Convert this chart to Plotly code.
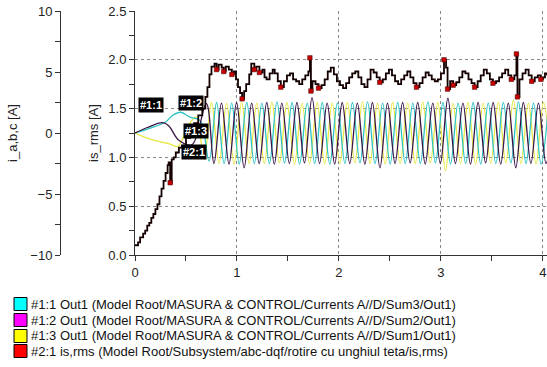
import plotly.graph_objects as go

# ---------------- data ----------------
# is_rms [A]  (time in s)
rms_t = [0.00, 0.03, 0.05, 0.08, 0.10, 0.12, 0.14, 0.16, 0.18, 0.20,
         0.22, 0.24, 0.26, 0.28, 0.30, 0.32, 0.33, 0.345, 0.36, 0.38,
         0.40, 0.43, 0.46, 0.50, 0.54, 0.58, 0.62, 0.66, 0.69, 0.71,
         0.73, 0.75, 0.78, 0.80, 0.82, 0.85, 0.87, 0.89, 0.92, 0.95,
         0.97, 0.99, 1.01, 1.03, 1.05, 1.07, 1.09, 1.12, 1.14, 1.17,
         1.19, 1.22, 1.25, 1.27, 1.29, 1.32, 1.35, 1.37, 1.40, 1.43,
         1.46, 1.49, 1.52, 1.55, 1.58, 1.61, 1.64, 1.67, 1.70, 1.715,
         1.725, 1.74, 1.77, 1.80, 1.83, 1.86, 1.89, 1.92, 1.95, 1.98,
         2.01, 2.04, 2.07, 2.10, 2.13, 2.16, 2.19, 2.22, 2.25, 2.28,
         2.31, 2.34, 2.37, 2.40, 2.43, 2.46, 2.49, 2.52, 2.55, 2.58,
         2.61, 2.64, 2.67, 2.70, 2.73, 2.76, 2.79, 2.82, 2.85, 2.88,
         2.91, 2.94, 2.97, 3.00, 3.03, 3.05, 3.065, 3.09, 3.12, 3.15,
         3.18, 3.21, 3.24, 3.27, 3.30, 3.33, 3.36, 3.39, 3.42, 3.45,
         3.48, 3.51, 3.54, 3.57, 3.60, 3.63, 3.66, 3.69, 3.72, 3.74,
         3.75, 3.77, 3.80, 3.83, 3.86, 3.89, 3.92, 3.95, 3.98, 4.00,
         4.02, 4.04]
rms_v = [0.10, 0.13, 0.18, 0.22, 0.25, 0.30, 0.33, 0.38, 0.42, 0.47,
         0.52, 0.60, 0.68, 0.76, 0.84, 0.92, 0.95, 0.74, 0.98, 1.00,
         1.05, 1.10, 1.12, 1.20, 1.28, 1.35, 1.43, 1.50, 1.62, 1.72,
         1.85, 1.93, 1.96, 1.90, 1.95, 1.92, 1.88, 1.93, 1.90, 1.85,
         1.88, 1.80, 1.72, 1.66, 1.60, 1.68, 1.75, 1.85, 1.96, 1.90,
         1.93, 1.87, 1.90, 1.82, 1.80, 1.86, 1.90, 1.86, 1.78, 1.72,
         1.78, 1.84, 1.86, 1.80, 1.78, 1.75, 1.80, 1.84, 1.88, 2.02,
         1.68, 1.78, 1.75, 1.71, 1.74, 1.80, 1.88, 1.92, 1.85, 1.78,
         1.74, 1.71, 1.76, 1.82, 1.86, 1.88, 1.82, 1.75, 1.72, 1.80,
         1.90, 1.87, 1.82, 1.77, 1.80, 1.86, 1.90, 1.84, 1.78, 1.75,
         1.80, 1.84, 1.88, 1.82, 1.76, 1.72, 1.76, 1.82, 1.87, 1.84,
         1.80, 1.78, 1.80, 1.86, 2.00, 1.92, 1.70, 1.78, 1.74, 1.77,
         1.82, 1.88, 1.86, 1.80, 1.76, 1.72, 1.78, 1.84, 1.90, 1.86,
         1.80, 1.76, 1.78, 1.82, 1.86, 1.90, 1.84, 1.80, 1.84, 2.06,
         1.62, 1.80, 1.86, 1.90, 1.84, 1.78, 1.82, 1.84, 1.80, 1.82,
         1.86, 1.84]

# i_a,b,c [A] : turning points of each phase current
ia_t = [0.00, 0.15, 0.30, 0.37, 0.45, 0.54, 0.64,
        0.726, 0.800, 0.874, 0.948, 1.022, 1.096, 1.170, 1.244, 1.318, 1.392,
        1.466, 1.540, 1.614, 1.688, 1.762, 1.836, 1.910, 1.984, 2.058, 2.132,
        2.206, 2.280, 2.354, 2.428, 2.502, 2.576, 2.650, 2.724, 2.798, 2.872,
        2.946, 3.020, 3.094, 3.168, 3.242, 3.316, 3.390, 3.464, 3.538, 3.612,
        3.686, 3.760, 3.834, 3.908, 3.982, 4.056]
ia_v = [0.0, 0.4, 0.9, 1.45, 1.7, 1.3, 1.0,
        -2.3, 2.5, -2.5, 2.45, -2.55, 2.5, -2.5, 2.45, -2.5, 2.55,
        -2.45, 2.5, -2.55, 2.45, -2.5, 2.5, -2.55, 2.45, -2.5, 2.5,
        -2.45, 2.55, -2.5, 2.45, -2.55, 2.5, -2.5, 2.45, -2.5, 2.55,
        -2.45, 2.5, -2.55, 2.45, -2.5, 2.5, -2.55, 2.45, -2.5, 2.5,
        -2.45, 2.55, -2.5, 2.45, -2.55, 2.5]

ib_t = [0.00, 0.12, 0.27, 0.33, 0.43, 0.56,
        0.700, 0.774, 0.848, 0.922, 0.996, 1.070, 1.144, 1.218, 1.292, 1.366,
        1.440, 1.514, 1.588, 1.662, 1.736, 1.810, 1.884, 1.958, 2.032, 2.106,
        2.180, 2.254, 2.328, 2.402, 2.476, 2.550, 2.624, 2.698, 2.772, 2.846,
        2.920, 2.994, 3.068, 3.142, 3.216, 3.290, 3.364, 3.438, 3.512, 3.586,
        3.660, 3.734, 3.808, 3.882, 3.956, 4.030, 4.104]
ib_v = [0.0, 0.45, 0.85, 0.6, -0.6, -0.95,
        2.4, -2.5, 2.45, -2.55, 2.5, -2.85, 2.45, -2.5, 2.5, -2.55,
        2.45, -2.5, 2.5, -2.45, 2.9, -2.5, 2.45, -2.55, 2.5, -2.5,
        2.45, -2.55, 2.5, -2.85, 2.45, -2.5, 2.5, -2.45, 2.5, -2.55,
        2.45, -2.5, 2.85, -2.5, 2.45, -2.55, 2.5, -2.45, 2.5, -2.55,
        2.45, -2.85, 2.5, -2.5, 2.45, -2.5, 2.5]

ic_t = [0.00, 0.15, 0.34, 0.42, 0.52, 0.60,
        0.676, 0.750, 0.824, 0.898, 0.972, 1.046, 1.120, 1.194, 1.268, 1.342,
        1.416, 1.490, 1.564, 1.638, 1.712, 1.786, 1.860, 1.934, 2.008, 2.082,
        2.156, 2.230, 2.304, 2.378, 2.452, 2.526, 2.600, 2.674, 2.748, 2.822,
        2.896, 2.970, 3.044, 3.118, 3.192, 3.266, 3.340, 3.414, 3.488, 3.562,
        3.636, 3.710, 3.784, 3.858, 3.932, 4.006, 4.080]
ic_v = [0.0, -0.5, -0.9, -1.1, 0.6, 1.3,
        -2.2, 2.5, -2.5, 2.45, -2.55, 2.5, -2.5, 2.45, -2.5, 2.55,
        -2.45, 2.5, -2.55, 2.45, -2.5, 2.5, -2.55, 2.45, -2.5, 2.5,
        -2.45, 2.55, -2.5, 2.45, -2.55, 2.5, -2.5, 2.45, -2.5, 2.55,
        -2.45, 2.5, -3.1, 2.45, -2.5, 2.5, -2.55, 2.45, -2.5, 2.5,
        -2.45, 2.7, -2.5, 2.45, -2.55, 2.5, -2.5]

legend_names = [
    "#1:1 Out1 (Model Root/MASURA & CONTROL/Currents A//D/Sum3/Out1)",
    "#1:2 Out1 (Model Root/MASURA & CONTROL/Currents A//D/Sum2/Out1)",
    "#1:3 Out1 (Model Root/MASURA & CONTROL/Currents A//D/Sum1/Out1)",
    "#2:1 is,rms (Model Root/Subsystem/abc-dqf/rotire cu unghiul teta/is,rms)",
]
legend_colors = ["#00ffff", "#ff00ff", "#ffff00", "#ff0000"]
label_texts = ["#1:1", "#1:2", "#1:3", "#2:1"]
label_x = [0.155, 0.55, 0.60, 0.58]
label_y = [1.537, 1.56, 1.27, 1.055]

x_ticks = [0, 1, 2, 3, 4]

# ---------------- figure ----------------
fig = go.Figure()

FONT = "Liberation Sans, Arial, sans-serif"
ML, MT, PW, PH = 60, 11, 487, 244   # plot area in pixels


def px_x(px):
    return (px - ML) / PW


def px_y(py):
    return (MT + PH - py) / PH


fig.add_trace(go.Scatter(x=ic_t, y=ic_v, yaxis="y", mode="lines",
                         line=dict(color="#e8e84a", width=1.3, shape="spline"),
                         showlegend=False))
fig.add_trace(go.Scatter(x=ia_t, y=ia_v, yaxis="y", mode="lines",
                         line=dict(color="#2fc4c4", width=1.3, shape="spline"),
                         showlegend=False))
fig.add_trace(go.Scatter(x=ib_t, y=ib_v, yaxis="y", mode="lines",
                         line=dict(color="#3a1648", width=1.3, shape="spline"),
                         showlegend=False))

# rms: black staircase with red blobs at dips/spikes
fig.add_trace(go.Scatter(x=rms_t, y=rms_v, yaxis="y2", mode="lines",
                         line=dict(color="#140000", width=1.8, shape="hv"),
                         showlegend=False))
dip_x, dip_y = [], []
for i in range(1, len(rms_v) - 1):
    if rms_t[i] > 0.3 and ((rms_v[i] < rms_v[i - 1] - 0.03 and rms_v[i] <= rms_v[i + 1])
                           or rms_v[i] >= 1.98):
        dip_x.append(rms_t[i])
        dip_y.append(rms_v[i])
fig.add_trace(go.Scatter(x=dip_x, y=dip_y, yaxis="y2", mode="markers",
                         marker=dict(color="#c80000", size=4.5, symbol="square",
                                     line=dict(color="#400000", width=0.5)),
                         showlegend=False))

for txt, lx, ly in zip(label_texts, label_x, label_y):
    fig.add_annotation(x=lx, y=ly, xref="x", yref="y2", text="<b>" + txt + "</b>",
                       showarrow=False, bgcolor="#000", borderpad=1,
                       font=dict(color="#fff", size=11, family=FONT))

# legend (drawn below the plot)
row_y = [304, 320, 336, 351]
for name, col, ry in zip(legend_names, legend_colors, row_y):
    fig.add_shape(type="rect", xref="paper", yref="paper",
                  x0=px_x(14), x1=px_x(27), y0=px_y(ry - 6.5), y1=px_y(ry + 6.5),
                  fillcolor=col, line=dict(color="#000", width=1))
    fig.add_annotation(x=px_x(29), y=px_y(ry), xref="paper", yref="paper",
                       text=name, showarrow=False, xanchor="left", yanchor="middle",
                       font=dict(size=13, color="#111", family=FONT))

x0 = 75 / PW
fig.update_layout(
    width=547, height=367,
    margin=dict(l=ML, r=0, t=MT, b=367 - MT - PH),
    paper_bgcolor="#fff", plot_bgcolor="#fff",
    font=dict(family=FONT, size=13, color="#222"),
    showlegend=False,
    xaxis=dict(domain=[x0, 1], range=[0, 4.04], tickvals=x_ticks,
               ticks="outside", ticklen=5, tickcolor="#333",
               ticklabeloverflow="allow",
               minor=dict(dtick=0.5, ticks="outside", ticklen=5, tickcolor="#333"),
               showline=True, linecolor="#333", linewidth=1,
               showgrid=True, gridcolor="#888", griddash="dot", gridwidth=1,
               zeroline=False, automargin=False, tickfont=dict(size=13)),
    yaxis=dict(anchor="free", position=0, range=[-10, 10],
               tickvals=[-10, -5, 0, 5, 10], ticks="outside", ticklen=5,
               tickcolor="#333",
               minor=dict(dtick=2.5, ticks="outside", ticklen=5, tickcolor="#333"),
               showline=True, linecolor="#333", linewidth=1,
               showgrid=False, zeroline=False, automargin=False,
               title=dict(text="i_a,b,c [A]", standoff=8, font=dict(size=13))),
    yaxis2=dict(overlaying="y", anchor="x", side="left", range=[0, 2.5],
                dtick=0.5, tickformat=".1f", ticks="outside", ticklen=5,
                tickcolor="#333",
                minor=dict(dtick=0.25, ticks="outside", ticklen=5, tickcolor="#333"),
                showline=True, linecolor="#333", linewidth=1,
                showgrid=True, gridcolor="#888", griddash="dot", gridwidth=1,
                zeroline=False, automargin=False,
                title=dict(text="is_rms [A]", standoff=6, font=dict(size=13))),
)

fig.write_html("out.html", config={"displayModeBar": False},
               post_script="document.body.style.margin='0';")
